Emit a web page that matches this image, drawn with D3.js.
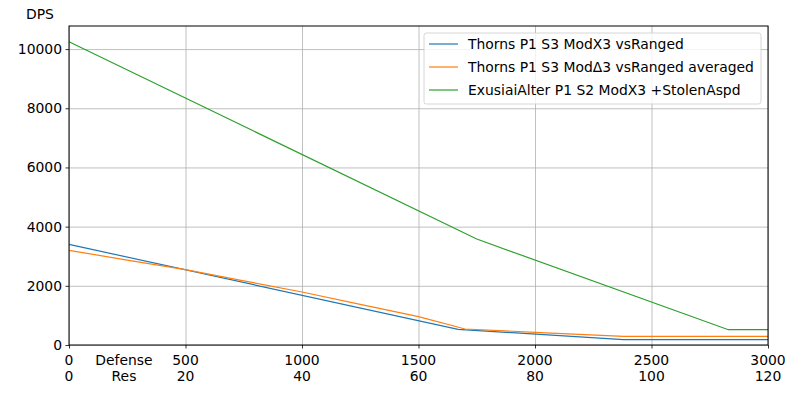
<!DOCTYPE html>
<html>
<head>
<meta charset="utf-8">
<script src="https://cdn.jsdelivr.net/npm/d3@7"></script>
<style>
  body { margin: 0; background: #fff; }
  text { font-family: "DejaVu Sans", sans-serif; }
</style>
</head>
<body>
<div id="chart"></div>
<script>
// values
const thornsDef = [0, 1670, 2380, 3000];
const thornsDps = [3400, 530, 180, 180];

const avgDef = [0, 250, 500, 750, 1000, 1250, 1500, 1700, 2000, 2380, 3000];
const avgDps = [3200, 2870, 2550, 2170, 1790, 1375, 957, 540, 430, 290, 290];

const exuDef = [0, 1750, 2830, 3000];
const exuDps = [10250, 3580, 517, 517];

const seriesNames = [
    "Thorns P1 S3 ModX3 vsRanged",
    "Thorns P1 S3 ModΔ3 vsRanged averaged",
    "ExusiaiAlter P1 S2 ModX3 +StolenAspd"
];
const seriesColors = ["#1f77b4", "#ff7f0e", "#2ca02c"];

const defTicks = [0, 500, 1000, 1500, 2000, 2500, 3000];
const resTicks = [0, 20, 40, 60, 80, 100, 120];
const dpsTicks = [0, 2000, 4000, 6000, 8000, 10000];

const series = [
    thornsDef.map((d, i) => [d, thornsDps[i]]),
    avgDef.map((d, i) => [d, avgDps[i]]),
    exuDef.map((d, i) => [d, exuDps[i]])
];

const W = 800, H = 400;
const mLeft = 69, mRight = 768, mTop = 26, mBottom = 345;

const svg = d3.select("#chart").append("svg")
    .attr("width", W).attr("height", H);

const x = d3.scaleLinear().domain([0, 3000]).range([mLeft, mRight]);
const y = d3.scaleLinear().domain([0, 10780]).range([mBottom, mTop]);

// grid
svg.append("g")
    .attr("transform", `translate(0, ${mBottom})`)
    .call(d3.axisBottom(x).tickValues(defTicks).tickSize(-(mBottom - mTop)).tickFormat(""))
    .call(g => g.select(".domain").remove())
    .call(g => g.selectAll("line").attr("stroke", "#b0b0b0").attr("stroke-width", 0.8));

svg.append("g")
    .attr("transform", `translate(${mLeft}, 0)`)
    .call(d3.axisLeft(y).tickValues(dpsTicks).tickSize(-(mRight - mLeft)).tickFormat(""))
    .call(g => g.select(".domain").remove())
    .call(g => g.selectAll("line").attr("stroke", "#b0b0b0").attr("stroke-width", 0.8));

// lines
const line = d3.line().x(d => x(d[0])).y(d => y(d[1]));
svg.selectAll(".series")
    .data(series)
    .join("path")
    .attr("class", "series")
    .attr("d", line)
    .attr("fill", "none")
    .attr("stroke", (_, i) => seriesColors[i])
    .attr("stroke-width", 1.2);

// frame
svg.append("rect")
    .attr("x", mLeft).attr("y", mTop)
    .attr("width", mRight - mLeft).attr("height", mBottom - mTop)
    .attr("fill", "none").attr("stroke", "#000").attr("stroke-width", 1);

// x axis with two label rows
svg.append("g")
    .attr("transform", `translate(0, ${mBottom})`)
    .call(d3.axisBottom(x).tickValues(defTicks).tickSize(3.5).tickFormat(""))
    .call(g => g.select(".domain").remove())
    .call(g => g.selectAll("line").attr("stroke", "#000").attr("stroke-width", 0.8));

const xl = svg.append("g").selectAll("g")
    .data(defTicks)
    .join("g");
xl.append("text")
    .attr("x", d => x(d)).attr("y", 365)
    .attr("text-anchor", "middle")
    .style("font-size", "13.9px")
    .text(d => d);
xl.append("text")
    .attr("x", d => x(d)).attr("y", 381)
    .attr("text-anchor", "middle")
    .style("font-size", "13.9px")
    .text((d, i) => resTicks[i]);

svg.append("text").attr("x", 124).attr("y", 365)
    .attr("text-anchor", "middle").style("font-size", "13.9px").text("Defense");
svg.append("text").attr("x", 124).attr("y", 381)
    .attr("text-anchor", "middle").style("font-size", "13.9px").text("Res");

// y axis
svg.append("g")
    .attr("transform", `translate(${mLeft}, 0)`)
    .call(d3.axisLeft(y).tickValues(dpsTicks).tickSize(3.5).tickPadding(3.5).tickFormat(d3.format("d")))
    .call(g => g.select(".domain").remove())
    .call(g => g.selectAll("line").attr("stroke", "#000").attr("stroke-width", 0.8))
    .call(g => g.selectAll("text").style("font-size", "13.9px")
        .style("font-family", "DejaVu Sans, sans-serif").attr("fill", "#000"));

svg.append("text").attr("x", 40).attr("y", 19)
    .attr("text-anchor", "middle").style("font-size", "13.9px").text("DPS");

// legend
const lg = svg.append("g").attr("transform", "translate(424, 33)");
lg.append("rect")
    .attr("width", 337).attr("height", 71).attr("rx", 2.5)
    .attr("fill", "#fff").attr("fill-opacity", 0.8)
    .attr("stroke", "#cccccc").attr("stroke-width", 0.8);
const items = lg.selectAll(".item").data(seriesNames).join("g")
    .attr("class", "item")
    .attr("transform", (_, i) => `translate(0, ${11 + i * 23})`);
items.append("line")
    .attr("x1", 5).attr("x2", 34)
    .attr("stroke", (_, i) => seriesColors[i]).attr("stroke-width", 1.2);
items.append("text")
    .attr("x", 44).attr("y", 5)
    .style("font-size", "13.9px")
    .text(d => d);
</script>
</body>
</html>
